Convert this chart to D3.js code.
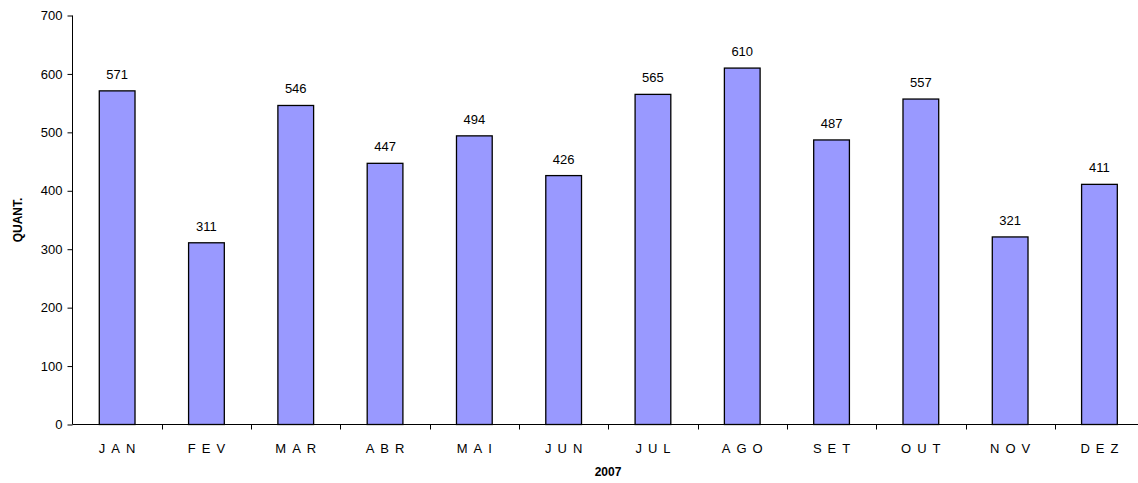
<!DOCTYPE html>
<html>
<head>
<meta charset="utf-8">
<script src="https://cdn.jsdelivr.net/npm/d3@7"></script>
<style>
  body { margin: 0; background: #fff; }
  svg { display: block; font-family: Arial, "Liberation Sans", sans-serif; }
</style>
</head>
<body>
<svg width="1138" height="483"></svg>
<script>
var months = ["JAN", "FEV", "MAR", "ABR", "MAI", "JUN", "JUL", "AGO", "SET", "OUT", "NOV", "DEZ"];
var values = [571, 311, 546, 447, 494, 426, 565, 610, 487, 557, 321, 411];
var yTicks = [0, 100, 200, 300, 400, 500, 600, 700];

var svg = d3.select("svg");

var x = d3.scaleBand()
    .domain(months)
    .range([72.5, 72.5 + 12 * 89.3])
    .paddingInner(0.6)
    .paddingOuter(0.3);

var y = d3.scaleLinear()
    .domain([0, 700])
    .range([424.5, 15.5]);

// y axis
var yAxis = svg.append("g")
    .attr("transform", "translate(72.5,0)")
    .call(d3.axisLeft(y).tickValues(yTicks).tickSize(5).tickPadding(5));
yAxis.select(".domain").attr("d", "M0," + y(0) + "V" + y(700));
yAxis.selectAll("text").style("font-size", "13px").attr("fill", "#000")
    .attr("font-family", "Arial, 'Liberation Sans', sans-serif");

// bars
svg.append("g")
    .selectAll("rect")
    .data(values)
    .enter().append("rect")
    .attr("x", (d, i) => x(months[i]))
    .attr("y", d => y(d))
    .attr("width", x.bandwidth())
    .attr("height", d => y(0) - y(d))
    .attr("fill", "#9999ff")
    .attr("stroke", "#000")
    .attr("stroke-width", 1.3);

// x axis
var xAxisG = svg.append("g").attr("transform", "translate(0," + y(0) + ")");
xAxisG.append("line")
    .attr("x1", 72.5).attr("x2", 1138)
    .attr("stroke", "#000");
xAxisG.selectAll("line.tick")
    .data(d3.range(1, 12))
    .enter().append("line")
    .attr("class", "tick")
    .attr("x1", i => Math.round(72.5 + i * 89.3) + 0.5)
    .attr("x2", i => Math.round(72.5 + i * 89.3) + 0.5)
    .attr("y1", 0).attr("y2", 5)
    .attr("stroke", "#000");
xAxisG.selectAll("text")
    .data(months)
    .enter().append("text")
    .attr("x", d => x(d) + x.bandwidth() / 2 + 3)
    .attr("y", 28)
    .attr("text-anchor", "middle")
    .style("font-size", "13px")
    .style("letter-spacing", "6px")
    .text(d => d);

// value labels
svg.append("g")
    .selectAll("text")
    .data(values)
    .enter().append("text")
    .attr("x", (d, i) => x(months[i]) + x.bandwidth() / 2)
    .attr("y", d => y(d) - 12)
    .attr("text-anchor", "middle")
    .style("font-size", "13px")
    .text(d => d);

// axis titles
svg.append("text")
    .attr("transform", "translate(22," + (y(350)) + ") rotate(-90)")
    .attr("text-anchor", "middle")
    .style("font-size", "12px")
    .style("font-weight", "bold")
    .text("QUANT.");

svg.append("text")
    .attr("x", 608)
    .attr("y", 476)
    .attr("text-anchor", "middle")
    .style("font-size", "12px")
    .style("font-weight", "bold")
    .text("2007");
</script>
</body>
</html>
